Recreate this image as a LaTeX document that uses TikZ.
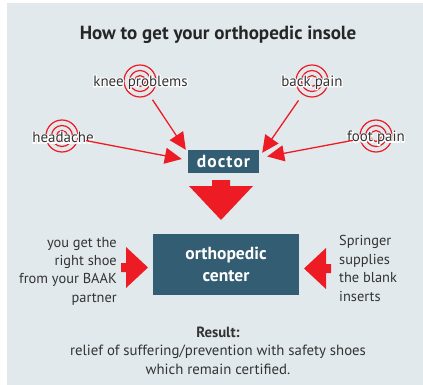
\documentclass[tikz,border=0pt]{standalone}
\usepackage{fontspec}
\setmainfont{PT Sans}
\usetikzlibrary{arrows.meta}
\definecolor{panel}{HTML}{E2E9ED}
\definecolor{teal}{HTML}{325D72}
\definecolor{redm}{HTML}{ED1C24}
\definecolor{ink}{HTML}{333333}
\newcommand{\halotext}[1]{\special{pdf:code q 1 Tr 1 1 1 RG 2.2 w}#1\special{pdf:code Q}}
\tikzset{
  x=1pt,y=-1pt,
  boxnode/.style={fill=teal,text=white,font=\fontsize{17.5}{22}\selectfont\bfseries,align=center,inner sep=0pt},
  txt/.style={text=ink,font=\fontsize{14.4}{18.4}\selectfont,inner sep=0pt},
  restxt/.style={text=ink,font=\fontsize{14.8}{18.4}\selectfont,inner sep=0pt},
  lab/.style={text=ink,font=\fontsize{15}{16}\selectfont,inner sep=0pt},
  target/.style={circle,draw=redm,line width=1.2pt,minimum size=32pt,inner sep=0pt},
  ring/.style={draw=redm,line width=1.2pt},
  conn/.style={draw=redm,line width=1.3pt,-{Triangle[length=17pt,width=16pt]}},
  bigarrow/.style={fill=redm},
}
\newcommand{\rings}[1]{\draw[ring] (#1) circle[radius=10.5pt]; \draw[ring] (#1) circle[radius=5.5pt];}
\begin{document}
\begin{tikzpicture}
\useasboundingbox (0,0) rectangle (423,385);
\fill[panel] (7,3) rectangle (423,385);
\node[text=black!85,font=\fontsize{19}{22}\selectfont\bfseries,inner sep=0pt] (title) at (218,34.5) {How to get your orthopedic insole};

\node[target] (knee) at (140,81) {}; \rings{knee}
\node[target] (head) at (62,136) {}; \rings{head}
\node[target] (back) at (312,81) {}; \rings{back}
\node[target] (foot) at (376,136) {}; \rings{foot}

\node[lab,text=white,overlay] at (140.5,82.5) {\halotext{knee problems}};
\node[lab,text=white,overlay] at (63,137.5) {\halotext{headache}};
\node[lab,text=white,overlay] at (312,82.5) {\halotext{back pain}};
\node[lab,text=white,overlay] at (376,138) {\halotext{foot pain}};
\node[lab] (lknee) at (140.5,82.5) {knee problems};
\node[lab] (lhead) at (63,137.5) {headache};
\node[lab] (lback) at (312,82.5) {back pain};
\node[lab] (lfoot) at (376,138) {foot pain};

\node[boxnode,minimum width=71pt,minimum height=23pt] (doctor) at (223.5,161.5) {\addfontfeature{LetterSpace=6}doctor};
\node[boxnode,minimum width=146pt,minimum height=61pt] (center) at (226,264.5) {\raisebox{-1.5pt}{orthopedic}\\\raisebox{-1.5pt}{center}};

\draw[conn,shorten <=6pt] (knee) -- ([xshift=-2pt]doctor.north west);
\draw[conn,shorten <=8pt] (head) -- ([xshift=-6pt,yshift=2.5pt]doctor.west);
\draw[conn,shorten <=7pt] (back) -- ([xshift=3pt,yshift=-3pt]doctor.north east);
\draw[conn,shorten <=7pt] (foot) -- ([xshift=8pt,yshift=5pt]doctor.east);

\fill[bigarrow] (212,180) -- (230,180) -- (230,186) -- (253,186) -- (221,220) -- (189,186) -- (212,186) -- cycle;
\fill[bigarrow] (121,263) -- (126,263) -- (126,247) -- (148,267.5) -- (126,288) -- (126,272) -- (121,272) -- cycle;
\fill[bigarrow] (331,264) -- (326,264) -- (326,248) -- (304,268.5) -- (326,289) -- (326,273) -- (331,273) -- cycle;

\node[txt,align=right,anchor=east] (left) at (117,271) {you get the\\right shoe\\from your BAAK\\partner};
\node[txt,align=left,anchor=west] (right) at (339,268.5) {Springer\\supplies\\the blank\\inserts};
\node[restxt,align=center] (result) at (218,350.5) {\textbf{Result:}\\relief of suffering/prevention with safety shoes\\which remain certified.};
\end{tikzpicture}
\end{document}
